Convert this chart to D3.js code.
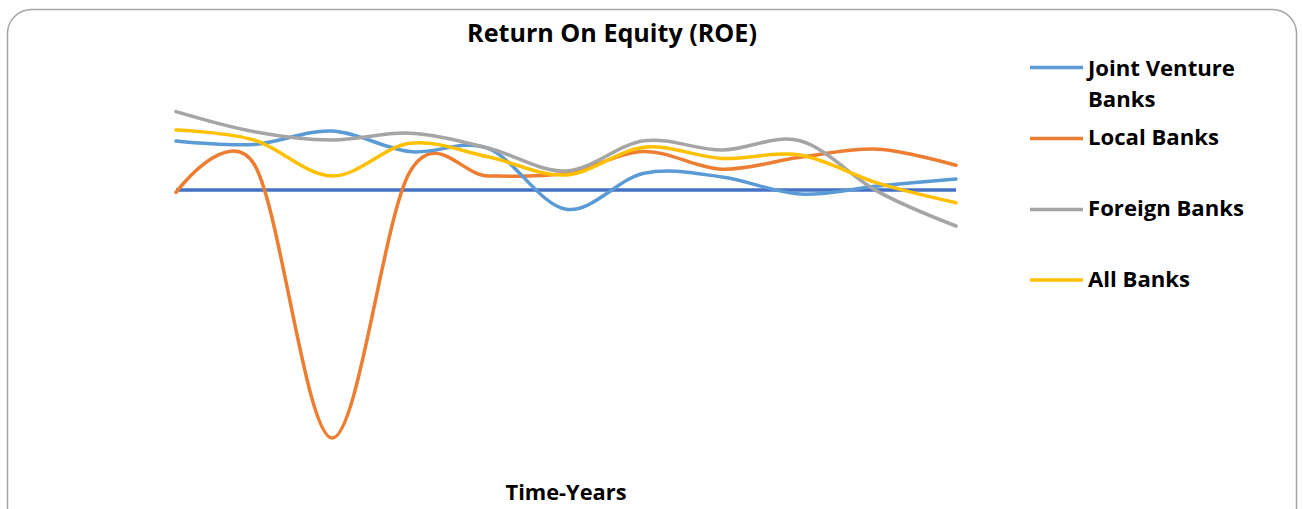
<!DOCTYPE html>
<html>
<head>
<meta charset="utf-8">
<script src="https://cdn.jsdelivr.net/npm/d3@7"></script>
<style>
  html, body { margin: 0; padding: 0; background: #fff; }
  svg { display: block; }
  text { font-family: "Open Sans", Lato, sans-serif; font-weight: 700; fill: #000; }
</style>
</head>
<body>
<svg id="chart" width="1303" height="509"></svg>
<script>
// Return On Equity (%) by bank group, one value per year
const years = ["Y1", "Y2", "Y3", "Y4", "Y5", "Y6", "Y7", "Y8", "Y9", "Y10", "Y11"];
const jointVenture = [12.25, 11.4, 14.75, 9.6, 10.4, -4.8, 4.2, 3.25, -1.0, 1.0, 2.75];
const localBanks   = [-0.6, 6.5, -62.0, 4.6, 3.5, 4.2, 9.6, 5.2, 8.2, 10.2, 6.2];
const foreignBanks = [19.6, 14.6, 12.5, 14.2, 10.5, 4.75, 12.3, 10.0, 12.3, -0.4, -9.0];
const allBanks     = [15.0, 12.5, 3.5, 11.7, 8.3, 3.75, 10.7, 7.9, 8.75, 1.7, -3.2];

const seriesNames  = ["Joint Venture Banks", "Local Banks", "Foreign Banks", "All Banks"];
const seriesColors = ["#5B9BD5", "#ED7D31", "#A5A5A5", "#FFC000"];
const seriesValues = [jointVenture, localBanks, foreignBanks, allBanks];

const svg = d3.select("#chart");

// scale a text element's font so its rendered width equals `width`
function fitWidth(sel, width) {
  const fs = parseFloat(sel.attr("font-size"));
  const w = sel.node().getComputedTextLength();
  sel.attr("font-size", (fs * width / w).toFixed(2));
  return sel;
}

// chart frame with rounded corners
svg.append("rect")
  .attr("x", 7.5).attr("y", 9.5)
  .attr("width", 1289).attr("height", 530)
  .attr("rx", 24).attr("ry", 24)
  .attr("fill", "#fff")
  .attr("stroke", "#A6A6A6")
  .attr("stroke-width", 1.5);

const x = d3.scalePoint().domain(years).range([176, 956]);
const y = d3.scaleLinear().domain([25, -65]).range([90, 450]);

// zero reference line
svg.append("line")
  .attr("x1", x(years[0])).attr("x2", x(years[years.length - 1]))
  .attr("y1", y(0)).attr("y2", y(0))
  .attr("stroke", "#4472C4")
  .attr("stroke-width", 3.5);

const line = d3.line()
  .x((d, i) => x(years[i]))
  .y(d => y(d))
  .curve(d3.curveCardinal.tension(0));

// draw order: local first so the others sit on top
const order = [1, 0, 2, 3];
order.forEach(k => {
  svg.append("path")
    .datum(seriesValues[k])
    .attr("d", line)
    .attr("fill", "none")
    .attr("stroke", seriesColors[k])
    .attr("stroke-width", 3.5)
    .attr("stroke-linecap", "round")
    .attr("stroke-linejoin", "round");
});

// title
const title = svg.append("text")
  .attr("x", 612).attr("y", 42)
  .attr("text-anchor", "middle")
  .attr("font-size", 20)
  .text("Return On Equity (ROE)");
fitWidth(title, 290);

// x axis title
const xTitle = svg.append("text")
  .attr("x", 566).attr("y", 500)
  .attr("text-anchor", "middle")
  .attr("font-size", 20)
  .text("Time-Years");
fitWidth(xTitle, 121);

// legend
const legendRows = [
  { lineY: 67.5, lines: ["Joint Venture", "Banks"], base: 76 },
  { lineY: 138.5, lines: ["Local Banks"], base: 145 },
  { lineY: 209.5, lines: ["Foreign Banks"], base: 216 },
  { lineY: 280, lines: ["All Banks"], base: 286.5 }
];
const legend = svg.append("g");
const probe = legend.append("text").attr("font-size", 20).text("Joint Venture");
fitWidth(probe, 147);
const legendFont = probe.attr("font-size");
probe.remove();
legendRows.forEach((r, i) => {
  legend.append("line")
    .attr("x1", 1030).attr("x2", 1083)
    .attr("y1", r.lineY).attr("y2", r.lineY)
    .attr("stroke", seriesColors[i])
    .attr("stroke-width", 3.5);
  r.lines.forEach((t, j) => {
    legend.append("text")
      .attr("x", 1088).attr("y", r.base + j * 31)
      .attr("font-size", legendFont)
      .text(t);
  });
});
</script>
</body>
</html>
